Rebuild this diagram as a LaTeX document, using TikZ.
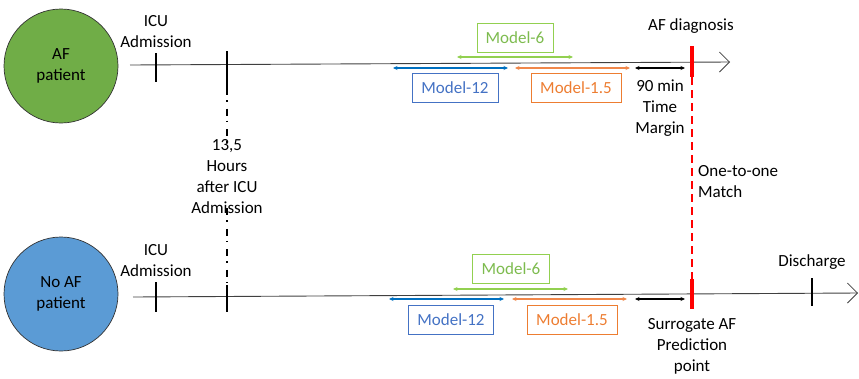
\documentclass[tikz,border=0pt]{standalone}
\usepackage{fontspec}
\setmainfont{Carlito}
\usetikzlibrary{arrows.meta}

\definecolor{afgreen}{HTML}{70AD47}
\definecolor{afblue}{HTML}{5B9BD5}
\definecolor{mgreen}{HTML}{7DBB4E}
\definecolor{mgreenarr}{HTML}{92D050}
\definecolor{mblue}{HTML}{4472C4}
\definecolor{mbluearr}{HTML}{0070C0}
\definecolor{morange}{HTML}{ED7D31}
\definecolor{moraarr}{HTML}{F0874A}
\definecolor{axisgray}{HTML}{404040}

\tikzset{
  patient/.style={circle, draw=black!80, line width=0.7pt, minimum size=114pt,
    inner sep=0pt, align=center},
  label/.style={inner sep=0pt, align=center},
  timeline/.style={draw=axisgray, line width=0.9pt,
    -{Straight Barb[length=10pt,width=20pt,line width=0.8pt]}},
  tick/.style={draw=black, line width=1.6pt},
  dashdot/.style={draw=black, line width=1.8pt,
    dash pattern=on 7pt off 5pt on 1.5pt off 7pt},
  redbar/.style={draw=red, line width=4.5pt},
  reddash/.style={draw=red, line width=1.8pt, dash pattern=on 8pt off 5pt},
  span/.style={line width=1.2pt, {Stealth[length=4.5pt,width=4pt]}-{Stealth[length=4.5pt,width=4pt]}},
  modelbox/.style={draw, line width=0.8pt, inner sep=0pt, minimum height=29pt},
}

\begin{document}
\begin{tikzpicture}[x=1pt, y=-1pt, font=\fontsize{17}{21}\selectfont]
\useasboundingbox (0,0) rectangle (859,378);

% patients
\node[patient, fill=afgreen] (afp) at (61,66) {AF\\patient};
\node[patient, fill=afblue] (noafp) at (61,294) {No AF\\patient};

% time axes
\coordinate (ta0) at (130,65);
\coordinate (ta1) at (730,62);
\coordinate (ba0) at (133,297);
\coordinate (ba1) at (858,293);
\draw[timeline] (ta0) -- (ta1);
\draw[timeline] (ba0) -- (ba1);

% ICU admission ticks
\coordinate (icuTa) at (156,53);  \coordinate (icuTb) at (156,82);
\coordinate (icuBa) at (156,282); \coordinate (icuBb) at (156,312);
\draw[tick] (icuTa) -- (icuTb);
\draw[tick] (icuBa) -- (icuBb);
\node[label] (icuT) at (156,32) {ICU\\Admission};
\node[label] (icuB) at (156,261) {ICU\\Admission};

% 13,5 hours ticks with dash-dotted link
\coordinate (hT0) at (227,51);  \coordinate (hT1) at (227,88);
\coordinate (hB0) at (227,285); \coordinate (hB1) at (227,312);
\draw[tick] (hT0) -- (hT1);
\draw[tick] (hB0) -- (hB1);
\node[label] (hours) at (227,177) {13,5\\Hours\\after ICU\\Admission};
\draw[dashdot] (hT1) -- ([yshift=-8pt]hours.north);
\draw[dashdot] ([yshift=6pt]hours.south) -- (hB0);

% discharge
\coordinate (dc0) at (812,278); \coordinate (dc1) at (812,306);
\draw[tick] (dc0) -- (dc1);
\node[label] (discharge) at (812,262) {Discharge};

% AF diagnosis and surrogate point with one-to-one match
\coordinate (rT0) at (692,46);  \coordinate (rT1) at (692,77);
\coordinate (rB0) at (692,279); \coordinate (rB1) at (692,309);
\draw[reddash] (rT1) -- (rB0);
\draw[redbar] (rT0) -- (rT1);
\draw[redbar] (rB0) -- (rB1);
\node[label] (afdiag) at (691,26) {AF diagnosis};
\node[label, align=left, anchor=west] (match) at (698,182) {One-to-one\\Match};
\node[label] (surrogate) at (692,346) {Surrogate AF\\Prediction\\point};

% model windows, AF patient
\coordinate (g6a) at (457,57);  \coordinate (g6b) at (573,57);
\coordinate (b12a) at (393,68); \coordinate (b12b) at (508,68);
\coordinate (o15a) at (515,68); \coordinate (o15b) at (630,68);
\coordinate (mT0) at (635,68);  \coordinate (mT1) at (685,68);
\draw[span, draw=mgreenarr, color=mgreenarr] (g6a) -- (g6b);
\draw[span, draw=mbluearr, color=mbluearr] (b12a) -- (b12b);
\draw[span, draw=moraarr, color=moraarr] (o15a) -- (o15b);
\draw[span, draw=black] (mT0) -- (mT1);
\node[modelbox, draw=mgreenarr, text=mgreen, minimum width=76pt] (m6T) at (515,38) {Model-6};
\node[modelbox, draw=mblue, text=mblue, minimum width=86pt] (m12T) at (455,88) {Model-12};
\node[modelbox, draw=morange, text=morange, minimum width=90pt] (m15T) at (576,88) {Model-1.5};
\node[label] (margin) at (660,108) {90 min\\Time\\Margin};

% model windows, no AF patient
\coordinate (g6c) at (453,289); \coordinate (g6d) at (568,289);
\coordinate (b12c) at (389,299); \coordinate (b12d) at (504,299);
\coordinate (o15c) at (512,299); \coordinate (o15d) at (627,299);
\coordinate (mB0) at (635,299);  \coordinate (mB1) at (685,299);
\draw[span, draw=mgreenarr, color=mgreenarr] (g6c) -- (g6d);
\draw[span, draw=mbluearr, color=mbluearr] (b12c) -- (b12d);
\draw[span, draw=moraarr, color=moraarr] (o15c) -- (o15d);
\draw[span, draw=black] (mB0) -- (mB1);
\node[modelbox, draw=mgreenarr, text=mgreen, minimum width=77pt] (m6B) at (511,269) {Model-6};
\node[modelbox, draw=mblue, text=mblue, minimum width=85pt] (m12B) at (451,320) {Model-12};
\node[modelbox, draw=morange, text=morange, minimum width=90pt] (m15B) at (572,320) {Model-1.5};
\end{tikzpicture}
\end{document}
